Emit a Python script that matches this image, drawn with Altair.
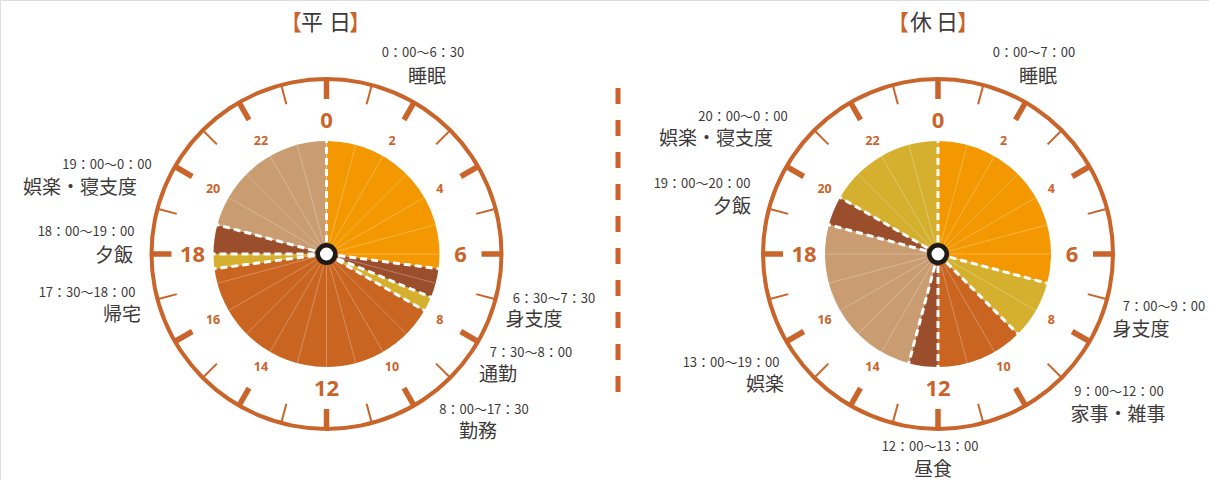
import math
import altair as alt
import pandas as pd

# ---------------- data ----------------
panel_titles = ["平日", "休日"]

weekday_start = [0, 6.5, 7.5, 8, 17.5, 18, 19]
weekday_end = [6.5, 7.5, 8, 17.5, 18, 19, 24]
weekday_activity = ["睡眠", "身支度", "通勤", "勤務", "帰宅", "夕飯", "娯楽・寝支度"]
weekday_time = ["0：00～6：30", "6：30～7：30", "7：30～8：00", "8：00～17：30",
                "17：30～18：00", "18：00～19：00", "19：00～0：00"]
weekday_tone = ["sleep", "dark", "mustard", "rust", "mustard", "dark", "tan"]

holiday_start = [0, 7, 9, 12, 13, 19, 20]
holiday_end = [7, 9, 12, 13, 19, 20, 24]
holiday_activity = ["睡眠", "身支度", "家事・雑事", "昼食", "娯楽", "夕飯", "娯楽・寝支度"]
holiday_time = ["0：00～7：00", "7：00～9：00", "9：00～12：00", "12：00～13：00",
                "13：00～19：00", "19：00～20：00", "20：00～0：00"]
holiday_tone = ["sleep", "mustard", "rust", "dark", "tan", "dark", "mustard"]

hour_ticks = list(range(24))
major_hour_labels = [0, 6, 12, 18]
minor_hour_labels = [2, 4, 8, 10, 14, 16, 20, 22]

# ---------------- layout / style ----------------
W, H = 1209, 480
centers = {"平日": (326.5, 254.0), "休日": (938.0, 254.0)}
label_layout = {
    "平日": [((423, 53), (427, 77)), ((554, 299), (534, 320)), ((531, 353), (498, 375)),
             ((484, 410), (478, 432)), ((87, 293), (122, 315)), ((86, 232), (114, 256)),
             ((107, 165), (80, 188))],
    "休日": [((1034, 53), (1038, 77)), ((1164, 307), (1141, 330)), ((1119, 392), (1118, 415)),
             ((930, 447), (933, 470)), ((731, 363), (765, 385)), ((702, 184), (732, 207)),
             ((743, 117), (716, 139))],
}
title_layout = {"平日": [(291, 23), (312, 23), (340, 23), (360, 23)],
                "休日": [(898, 23), (921, 23), (947, 23), (968, 23)]}

ORANGE = "#C9642A"
GRAY = "#3E3A39"
tone_domain = ["sleep", "dark", "mustard", "rust", "tan"]
tone_range = ["#F39800", "#9B4E2C", "#D5B02F", "#C96421", "#C99C71"]
JP = "Noto Sans CJK JP"
NUM = "Open Sans"

R_PIE = 113
R_RING = 175

XS = alt.Scale(domain=[0, W], nice=False, zero=False)
YS = alt.Scale(domain=[0, H], nice=False, zero=False, reverse=True)
TS = alt.Scale(domain=[0, 24], range=[0, 2 * math.pi])


def xy(xf="x", yf="y"):
    return dict(x=alt.X(f"{xf}:Q", scale=XS, axis=None),
                y=alt.Y(f"{yf}:Q", scale=YS, axis=None))


def polar_calc(name, r):
    return {f"{name}x": f"datum.cx + {r} * sin(datum.h * PI / 12)",
            f"{name}y": f"datum.cy - {r} * cos(datum.h * PI / 12)"}


# ---------------- build tables ----------------
seg_rows, bound_rows, hour_rows, num_rows, lab_rows, title_rows = [], [], [], [], [], []
panels = [
    ("平日", weekday_start, weekday_end, weekday_activity, weekday_time, weekday_tone),
    ("休日", holiday_start, holiday_end, holiday_activity, holiday_time, holiday_tone),
]
for name, st, en, act, tm, tone in panels:
    cx, cy = centers[name]
    for s, e, a, t, c in zip(st, en, act, tm, tone):
        seg_rows.append(dict(panel=name, cx=cx, cy=cy, start=s, end=e, tone=c, activity=a))
        bound_rows.append(dict(panel=name, cx=cx, cy=cy, h=s))
    for h in hour_ticks:
        hour_rows.append(dict(panel=name, cx=cx, cy=cy, h=h, major=(h % 2 == 0)))
    for h in major_hour_labels:
        num_rows.append(dict(panel=name, cx=cx, cy=cy, h=h, label=str(h), big=True))
    for h in minor_hour_labels:
        num_rows.append(dict(panel=name, cx=cx, cy=cy, h=h, label=str(h), big=False))
    for (tpos, npos), a, t in zip(label_layout[name], act, tm):
        lab_rows.append(dict(x=tpos[0], y=tpos[1], text=t, kind="time"))
        lab_rows.append(dict(x=npos[0], y=npos[1], text=a, kind="name"))
    chars = ["【", name[0], name[1], "】"]
    for (px, py), ch in zip(title_layout[name], chars):
        title_rows.append(dict(x=px, y=py, text=ch, bracket=ch in "【】"))

segs = pd.DataFrame(seg_rows)
bounds = pd.DataFrame(bound_rows)
hours = pd.DataFrame(hour_rows)
nums = pd.DataFrame(num_rows)
labs = pd.DataFrame(lab_rows)
titles = pd.DataFrame(title_rows)
ring = pd.DataFrame([dict(cx=c[0], cy=c[1], start=0, end=24) for c in centers.values()])
sep = pd.DataFrame([dict(x=618, y=88, y2=392)])

# ---------------- layers ----------------
ring_layer = alt.Chart(ring).mark_arc(innerRadius=R_RING - 2, outerRadius=R_RING + 2, color=ORANGE).encode(
    theta=alt.Theta("start:Q", scale=TS, stack=False), theta2="end:Q", **xy("cx", "cy"))

tick_base = alt.Chart(hours).transform_calculate(**polar_calc("a", R_RING), **polar_calc("b", R_RING - 20))
tick_major = tick_base.transform_filter("datum.major").mark_rule(
    color=ORANGE, strokeWidth=5.5, strokeCap="butt").encode(
    **xy("ax", "ay"), x2="bx:Q", y2="by:Q")
tick_minor = tick_base.transform_filter("!datum.major").mark_rule(
    color=ORANGE, strokeWidth=2, strokeCap="butt").encode(
    **xy("ax", "ay"), x2="bx:Q", y2="by:Q")

num_big = alt.Chart(nums).transform_filter("datum.big").transform_calculate(
    **polar_calc("p", 134)).mark_text(
    font=NUM, fontSize=22, fontWeight="bold", color=ORANGE, baseline="middle", align="center", dy=1).encode(
    **xy("px", "py"), text="label:N")
num_small = alt.Chart(nums).transform_filter("!datum.big").transform_calculate(
    **polar_calc("p", 131)).mark_text(
    font=NUM, fontSize=12.5, fontWeight="bold", color=ORANGE, baseline="middle", align="center").encode(
    **xy("px", "py"), text="label:N")

pie = alt.Chart(segs).mark_arc(outerRadius=R_PIE, innerRadius=0).encode(
    theta=alt.Theta("start:Q", scale=TS, stack=False), theta2="end:Q",
    color=alt.Color("tone:N", scale=alt.Scale(domain=tone_domain, range=tone_range), legend=None),
    **xy("cx", "cy"))

hour_lines = alt.Chart(hours).transform_calculate(
    **polar_calc("a", 12), **polar_calc("b", R_PIE)).mark_rule(
    color="white", strokeWidth=0.8, opacity=0.35).encode(
    **xy("ax", "ay"), x2="bx:Q", y2="by:Q")

dash_lines = alt.Chart(bounds).transform_calculate(
    **polar_calc("a", 12), **polar_calc("b", R_PIE + 1)).mark_rule(
    color="white", strokeWidth=3, strokeDash=[7, 4], strokeCap="butt").encode(
    **xy("ax", "ay"), x2="bx:Q", y2="by:Q")

hub_white = alt.Chart(ring).mark_arc(innerRadius=0, outerRadius=8, color="white").encode(
    theta=alt.Theta("start:Q", scale=TS, stack=False), theta2="end:Q", **xy("cx", "cy"))
hub_black = alt.Chart(ring).mark_arc(innerRadius=6.5, outerRadius=11, color="#1E1A18").encode(
    theta=alt.Theta("start:Q", scale=TS, stack=False), theta2="end:Q", **xy("cx", "cy"))

time_text = alt.Chart(labs).transform_filter("datum.kind == 'time'").mark_text(
    font=JP, fontSize=13, color=GRAY, baseline="middle", align="center").encode(
    **xy(), text="text:N")
name_text = alt.Chart(labs).transform_filter("datum.kind == 'name'").mark_text(
    font=JP, fontSize=19, color=GRAY, baseline="middle", align="center").encode(
    **xy(), text="text:N")

title_br = alt.Chart(titles).transform_filter("datum.bracket").mark_text(
    font=JP, fontSize=22, color=ORANGE, baseline="middle", align="center").encode(
    **xy(), text="text:N")
title_ch = alt.Chart(titles).transform_filter("!datum.bracket").mark_text(
    font=JP, fontSize=22, color=GRAY, baseline="middle", align="center").encode(
    **xy(), text="text:N")

sep_layer = alt.Chart(sep).mark_rule(color=ORANGE, strokeWidth=5, strokeDash=[16, 16], strokeCap="butt").encode(
    **xy(), y2="y2:Q")

chart = alt.layer(
    ring_layer, tick_major, tick_minor, num_big, num_small,
    pie, hour_lines, dash_lines, hub_white, hub_black,
    time_text, name_text, title_br, title_ch, sep_layer,
).properties(width=W, height=H, padding=0, autosize=alt.AutoSizeParams(type="none")
).configure_view(stroke=None).configure(background="white")

chart.save("out.html", embed_options={"renderer": "svg", "actions": False})
